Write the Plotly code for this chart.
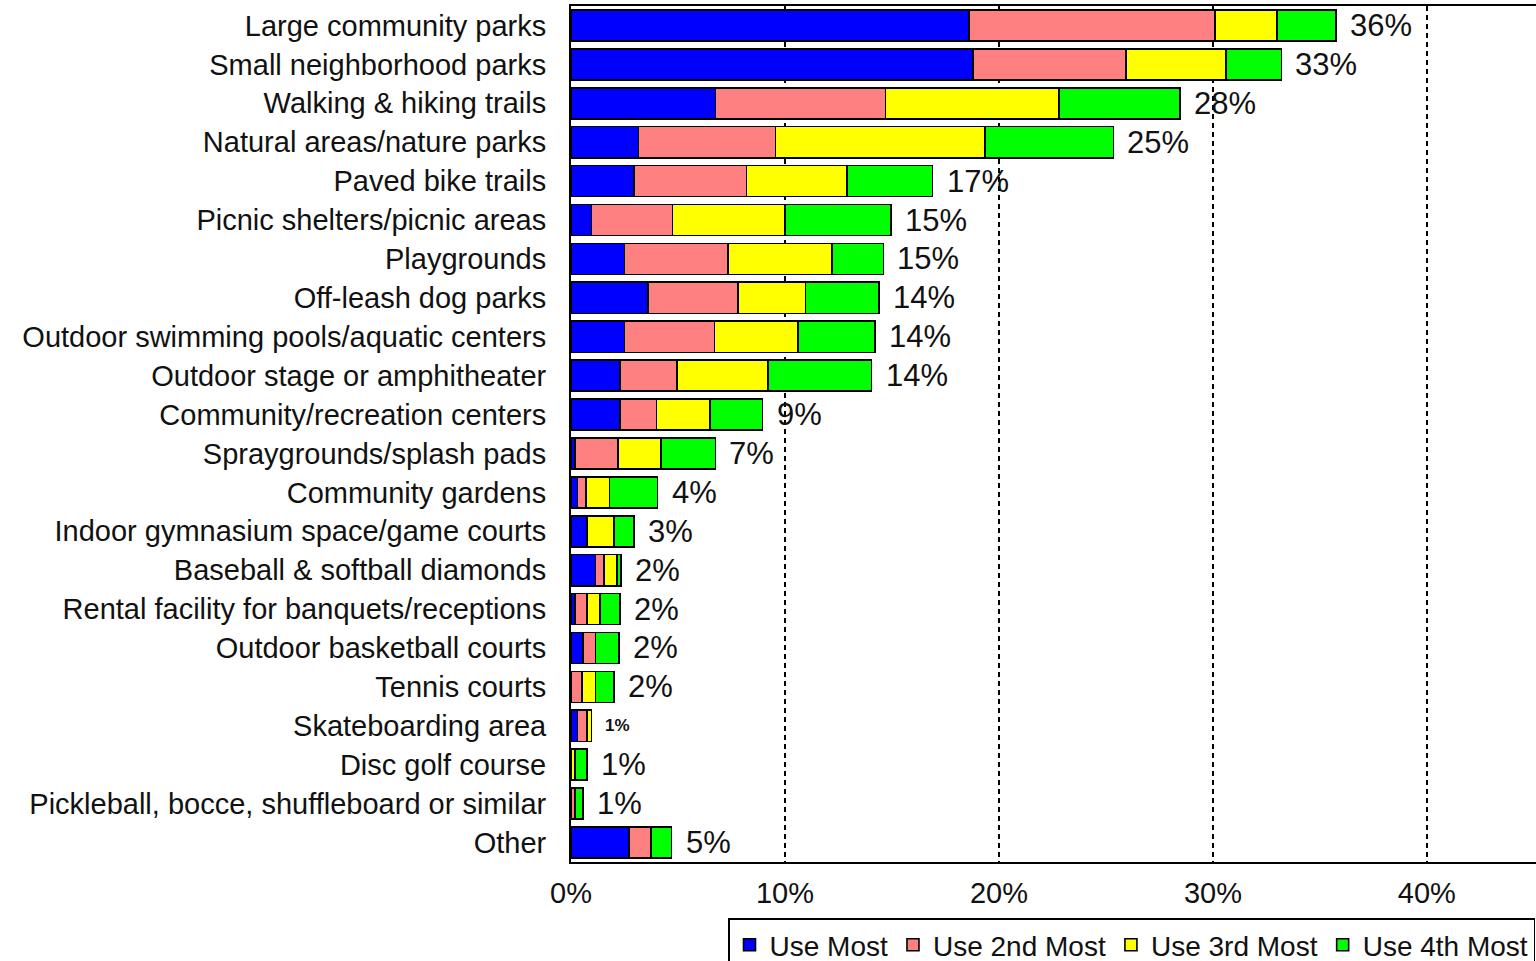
import plotly.graph_objects as go


# ==========================================================
# DATA
# ==========================================================

CATEGORIES = [
    "Large community parks",
    "Small neighborhood parks",
    "Walking & hiking trails",
    "Natural areas/nature parks",
    "Paved bike trails",
    "Picnic shelters/picnic areas",
    "Playgrounds",
    "Off-leash dog parks",
    "Outdoor swimming pools/aquatic centers",
    "Outdoor stage or amphitheater",
    "Community/recreation centers",
    "Spraygrounds/splash pads",
    "Community gardens",
    "Indoor gymnasium space/game courts",
    "Baseball & softball diamonds",
    "Rental facility for banquets/receptions",
    "Outdoor basketball courts",
    "Tennis courts",
    "Skateboarding area",
    "Disc golf course",
    "Pickleball, bocce, shuffleboard or similar",
    "Other",
]

USE_MOST = [18.6, 18.8, 6.75, 3.15, 2.95, 0.95, 2.5, 3.6, 2.5, 2.3, 2.3,
            0.2, 0.3, 0.75, 1.15, 0.2, 0.55, 0, 0.3, 0, 0, 2.7]

USE_2ND = [11.5, 7.15, 7.95, 6.4, 5.25, 3.8, 4.85, 4.2, 4.2, 2.65, 1.7,
           2.0, 0.4, 0, 0.4, 0.55, 0.6, 0.5, 0.45, 0, 0.2, 1.05]

USE_3RD = [2.9, 4.65, 8.1, 9.8, 4.7, 5.25, 4.85, 3.15, 3.9, 4.25, 2.5,
           2.0, 1.1, 1.25, 0.6, 0.6, 0, 0.65, 0.2, 0.2, 0, 0]

USE_4TH = [2.75, 2.6, 5.65, 6.0, 4.0, 4.95, 2.4, 3.45, 3.6, 4.85, 2.45,
           2.55, 2.25, 0.95, 0.2, 0.95, 1.1, 0.85, 0, 0.55, 0.35, 0.95]

TOTAL_LABELS = ["36%", "33%", "28%", "25%", "17%", "15%", "15%", "14%",
                "14%", "14%", "9%", "7%", "4%", "3%", "2%", "2%", "2%",
                "2%", "1%", "1%", "1%", "5%"]

SERIES = [
    ("Use Most", USE_MOST),
    ("Use 2nd Most", USE_2ND),
    ("Use 3rd Most", USE_3RD),
    ("Use 4th Most", USE_4TH),
]

X_TICKS = [0, 10, 20, 30, 40]


# ==========================================================
# THEME
# ==========================================================

COLORS = ["#0000FF", "#FF8080", "#FFFF00", "#00FF00"]

FONT = "Arial, Liberation Sans, sans-serif"

TEXT = "#111111"

SMALL_LABELS = {"Skateboarding area"}


# ==========================================================
# FIGURE
# ==========================================================

fig = go.Figure()

for (name, values), color in zip(SERIES, COLORS):

    fig.add_trace(

        go.Bar(

            name=name,

            y=CATEGORIES,

            x=values,

            orientation="h",

            marker=dict(

                color=color,

                line=dict(color="black", width=1.6)

            )

        )

    )

totals = [sum(v) for v in zip(*[s[1] for s in SERIES])]

for cat, total, label in zip(CATEGORIES, totals, TOTAL_LABELS):

    small = cat in SMALL_LABELS

    fig.add_annotation(

        x=total,

        y=cat,

        text="<b>" + label + "</b>" if small else label,

        showarrow=False,

        xanchor="left",

        xshift=12,

        font=dict(

            family=FONT,

            size=17 if small else 31,

            color=TEXT

        )

    )

fig.update_layout(

    width=1536,

    height=961,

    barmode="stack",

    bargap=0.2,

    paper_bgcolor="white",

    plot_bgcolor="white",

    font=dict(family=FONT, size=29, color=TEXT),

    margin=dict(l=571, r=0, t=6, b=99, autoexpand=False),

    legend=dict(

        orientation="h",

        traceorder="normal",

        x=0.1627,

        xanchor="left",

        y=-0.066,

        yanchor="top",

        bgcolor="white",

        bordercolor="black",

        borderwidth=1.5,

        font=dict(family=FONT, size=28, color=TEXT),

        itemwidth=30

    ),

    showlegend=True

)

fig.update_xaxes(

    range=[0, 45.1],

    tickvals=X_TICKS,

    ticktext=[f"{t}%" for t in X_TICKS],

    ticks="",

    ticklabelstandoff=4,

    showgrid=True,

    gridcolor="black",

    gridwidth=1.5,

    griddash="5px,4px",

    zeroline=False,

    showline=True,

    linecolor="black",

    linewidth=1.5,

    mirror=True

)

fig.update_yaxes(

    autorange="reversed",

    ticks="",

    ticklabelstandoff=17,

    showgrid=False,

    showline=True,

    linecolor="black",

    linewidth=2

)

# page has a default body margin, drop it so the chart sits at 0,0
fig.write_html(

    "out.html",

    config={"displayModeBar": False},

    post_script="document.body.style.margin = '0';"

)
